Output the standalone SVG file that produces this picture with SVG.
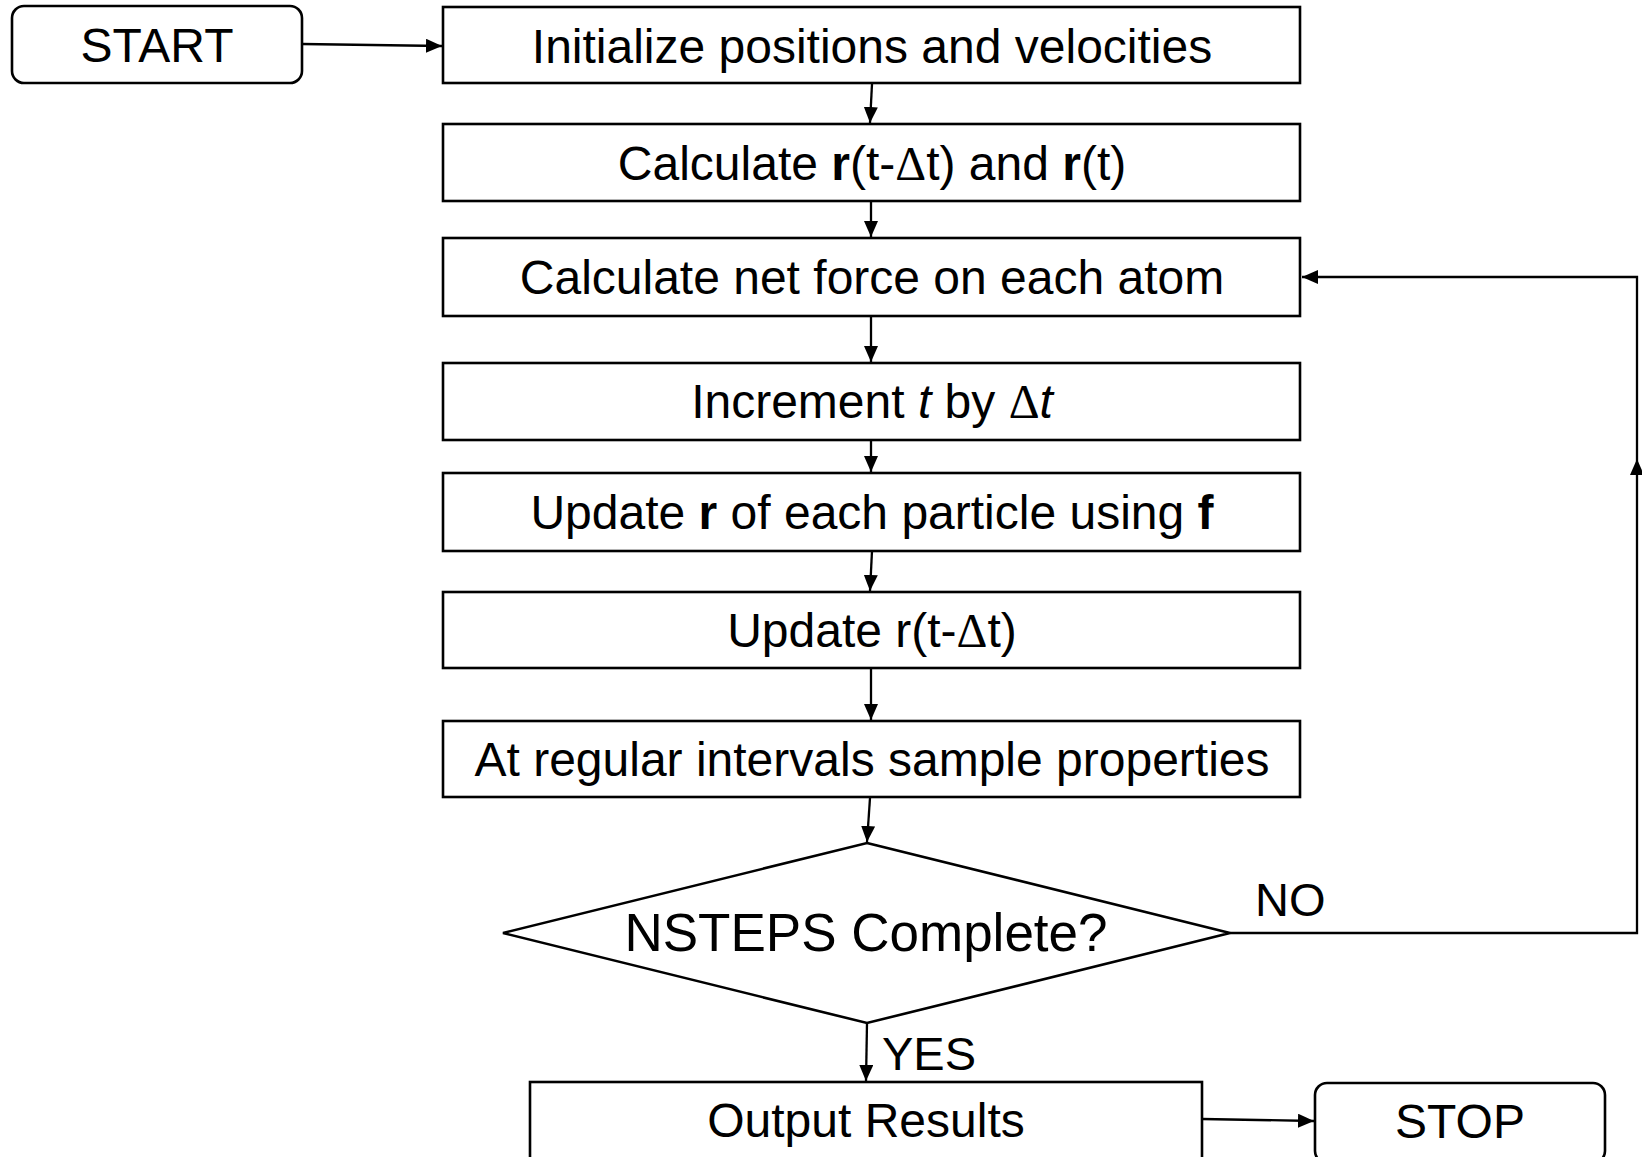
<svg xmlns="http://www.w3.org/2000/svg" width="1642" height="1157" viewBox="0 0 1642 1157">
<style>
.box{fill:#fff;stroke:#000;stroke-width:2.6}
.t{font-family:"Liberation Sans",Arial,sans-serif;font-size:48px;fill:#000;text-anchor:middle}
.lbl{font-family:"Liberation Sans",Arial,sans-serif;font-size:47px;fill:#000}
.c{fill:none;stroke:#000;stroke-width:2.3;marker-end:url(#ah)}
.b{font-weight:bold}
.i{font-style:italic}
.s{font-family:"Liberation Serif","Times New Roman",serif}
</style>
<defs>
<marker id="ah" markerUnits="userSpaceOnUse" markerWidth="17" markerHeight="14" refX="16" refY="7" orient="auto">
<path d="M0,0 L16,7 L0,14 z" fill="#000"/>
</marker>
</defs>
<rect width="1642" height="1157" fill="#fff"/>
<g id="connectors">
<line class="c" x1="302" y1="44" x2="442" y2="46"/>
<line class="c" x1="872" y1="84" x2="870" y2="123"/>
<line class="c" x1="871" y1="201" x2="871" y2="237"/>
<line class="c" x1="871" y1="316" x2="871" y2="362"/>
<line class="c" x1="871" y1="440" x2="871" y2="472"/>
<line class="c" x1="872" y1="551" x2="870" y2="591"/>
<line class="c" x1="871" y1="668" x2="871" y2="720"/>
<line class="c" x1="870" y1="798" x2="867" y2="842"/>
<line class="c" x1="867" y1="1023" x2="866" y2="1081"/>
<line class="c" x1="1202" y1="1119" x2="1314" y2="1121"/>
<polyline class="c" points="1230,933 1637,933 1637,459"/>
<polyline class="c" points="1637,459 1637,277 1302,277"/>
</g>
<g id="start">
<rect class="box" x="12" y="6" width="290" height="77" rx="12"/>
<text class="t" x="157" y="62">START</text>
</g>
<g id="init">
<rect class="box" x="443" y="7" width="857" height="76"/>
<text class="t" x="872" y="63">Initialize positions and velocities</text>
</g>
<g id="calc-r">
<rect class="box" x="443" y="124" width="857" height="77"/>
<text class="t" x="872" y="180">Calculate <tspan class="b">r</tspan>(t-<tspan class="s">Δ</tspan>t) and <tspan class="b">r</tspan>(t)</text>
</g>
<g id="calc-force">
<rect class="box" x="443" y="238" width="857" height="78"/>
<text class="t" x="872" y="294">Calculate net force on each atom</text>
</g>
<g id="increment">
<rect class="box" x="443" y="363" width="857" height="77"/>
<text class="t" x="872" y="418">Increment <tspan class="i">t</tspan> by <tspan class="s">Δ</tspan><tspan class="i">t</tspan></text>
</g>
<g id="update-r">
<rect class="box" x="443" y="473" width="857" height="78"/>
<text class="t" x="872" y="529">Update <tspan class="b">r</tspan> of each particle using <tspan class="b">f</tspan></text>
</g>
<g id="update-rprev">
<rect class="box" x="443" y="592" width="857" height="76"/>
<text class="t" x="872" y="647">Update r(t-<tspan class="s">Δ</tspan>t)</text>
</g>
<g id="sample">
<rect class="box" x="443" y="721" width="857" height="76"/>
<text class="t" x="872" y="776">At regular intervals sample properties</text>
</g>
<g id="decision">
<polygon class="box" points="867,843 1230,933 867,1023 503,933"/>
<text class="t" x="866" y="951" style="font-size:53px">NSTEPS Complete?</text>
</g>
<text class="lbl" x="1255" y="916">NO</text>
<text class="lbl" x="882" y="1070">YES</text>
<g id="output">
<rect class="box" x="530" y="1082" width="672" height="78"/>
<text class="t" x="866" y="1137">Output Results</text>
</g>
<g id="stop">
<rect class="box" x="1315" y="1083" width="290" height="80" rx="12"/>
<text class="t" x="1460" y="1138">STOP</text>
</g>
</svg>
